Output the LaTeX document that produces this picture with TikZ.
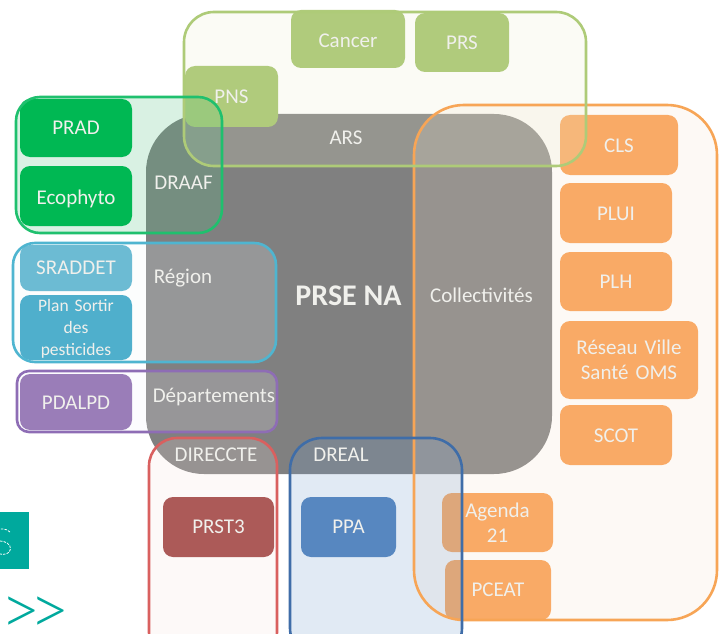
\documentclass[tikz,border=0pt]{standalone}
\usepackage{fontspec}
\setmainfont{Carlito}
\newfontfamily\chevfont{Lato Light}
\definecolor{txt}{HTML}{F0F0EC}
\definecolor{core}{HTML}{808080}
\definecolor{orangeb}{HTML}{F9AA66}
\definecolor{greenb}{HTML}{B0CB7C}
\definecolor{draafb}{HTML}{00B853}
\definecolor{sradb}{HTML}{6CBBD3}
\definecolor{planb}{HTML}{4FAFCC}
\definecolor{purpb}{HTML}{9A7DB8}
\definecolor{redb}{HTML}{AC5A58}
\definecolor{blueb}{HTML}{5787C0}
\definecolor{teal}{HTML}{00A99D}
\tikzset{
  x=1pt,y=-1pt,
  inner/.style={rounded corners=10pt,text=txt,font=\fontsize{21}{25}\selectfont,align=center},
  group/.style={rounded corners=#1,draw,line width=2.6pt},
  tag/.style={text=txt,font=\fontsize{21}{25}\selectfont,inner sep=0pt,anchor=base},
}
\newcommand{\dn}[2]{\raisebox{-#1pt}[\height][\depth]{#2}}
\newcommand{\rb}[7]{%
  \pgfmathsetmacro{\cxx}{(#2+#4)/2}\pgfmathsetmacro{\cyy}{(#3+#5)/2}%
  \pgfmathsetmacro{\ww}{#4-#2}\pgfmathsetmacro{\hh}{#5-#3}%
  \node[inner sep=0pt,outer sep=0pt,#6,minimum width=\ww pt,minimum height=\hh pt,text width=\ww pt] (#1) at (\cxx,\cyy) {#7};}
\begin{document}
\begin{tikzpicture}
\path[use as bounding box,clip] (0,0) rectangle (721,634);
\fill[white] (0,0) rectangle (721,634);
% core
\rb{core}{146}{114}{552}{474}{rounded corners=58pt,fill=core}{}
% Collectivites fill and boxes
\rb{collg}{414}{105}{717}{620}{rounded corners=50pt,fill={rgb,255:red,245;green,225;blue,205},fill opacity=.2}{}
\rb{cls}{560}{115}{678}{175}{inner,fill=orangeb}{\dn{1}{CLS}}
\rb{plui}{560}{183}{672}{243}{inner,fill=orangeb}{\dn{1}{PLUI}}
\rb{plh}{560}{252}{672}{311}{inner,fill=orangeb}{PLH}
\rb{reseau}{560}{321}{698}{399}{inner,fill=orangeb}{Réseau Ville\\Santé OMS}
\rb{scot}{560}{405}{672}{465}{inner,fill=orangeb}{\dn{1}{SCOT}}
\rb{agenda}{442}{493}{553}{552}{inner,fill=orangeb}{Agenda\\21}
\rb{pceat}{445}{560}{551}{620}{inner,fill=orangeb}{PCEAT}
% ARS
\rb{arsg}{184}{12}{586}{166}{rounded corners=30pt,fill={rgb,255:red,235;green,235;blue,205},fill opacity=.2}{}
\rb{cancer}{291}{10}{405}{68}{inner,fill=greenb}{\dn{2}{Cancer}}
\rb{prs}{415}{13}{509}{72}{inner,fill=greenb}{PRS}
\rb{pns}{185}{66}{278}{127}{inner,fill=greenb}{PNS}
% DRAAF
\rb{draafg}{16}{97}{222}{233}{rounded corners=24pt,fill={rgb,255:red,82;green,195;blue,132},fill opacity=.22}{}
\rb{prad}{20}{99}{132}{157}{inner,fill=draafb}{PRAD}
\rb{eco}{20}{166}{132}{226}{inner,fill=draafb}{\dn{2.5}{Ecophyto}}
% Region
\rb{regg}{13}{243}{276}{362}{rounded corners=22pt,fill={rgb,255:red,240;green,246;blue,248},fill opacity=.2}{}
\rb{srad}{20}{245}{132}{291}{inner,fill=sradb}{SRADDET}
\rb{plan}{20}{295}{132}{360}{inner,fill=planb,font=\fontsize{17.5}{22}\selectfont}{\dn{1}{Plan Sortir}\\\dn{1}{des}\\\dn{1}{pesticides}}
% Departements
\rb{depg}{17}{371}{277}{432}{rounded corners=12pt,fill={rgb,255:red,244;green,240;blue,250},fill opacity=.2}{}
\rb{pdal}{20}{374}{132}{430}{inner,fill=purpb}{\dn{1}{PDALPD}}
% DIRECCTE, DREAL
\rb{dirg}{149}{438}{277}{660}{rounded corners=28pt,fill={rgb,255:red,245;green,225;blue,220},fill opacity=.2}{}
\rb{drealg}{290}{438}{462}{660}{rounded corners=32pt,fill={rgb,255:red,118;green,157;blue,205},fill opacity=.21}{}
\rb{prst}{163}{497}{274}{557}{inner,fill=redb}{PRST3}
\rb{ppa}{301}{497}{396}{557}{inner,fill=blueb}{PPA}
% outlines
\rb{o1}{414}{105}{717}{620}{group=50pt,draw={rgb,255:red,247;green,165;blue,86}}{}
\rb{o2}{184}{12}{586}{166}{group=30pt,draw={rgb,255:red,174;green,203;blue,120}}{}
\rb{o3}{16}{97}{222}{233}{group=24pt,draw={rgb,255:red,31;green,192;blue,110}}{}
\rb{o4}{13}{243}{276}{362}{group=22pt,draw={rgb,255:red,79;green,181;blue,208}}{}
\rb{o5}{17}{371}{277}{432}{group=12pt,draw={rgb,255:red,142;green,109;blue,181}}{}
\rb{o6}{149}{438}{277}{660}{group=28pt,draw={rgb,255:red,217;green,96;blue,95}}{}
\rb{o7}{290}{438}{462}{660}{group=32pt,draw={rgb,255:red,63;green,109;blue,168}}{}
% labels
\node[tag] (lars) at (346,144) {ARS};
\node[tag] (ldraaf) at (183.5,189) {DRAAF};
\node[tag] (lreg) at (183,283) {Région};
\node[tag] (ldep) at (214,402) {Départements};
\node[tag] (ldir) at (216,461) {DIRECCTE};
\node[tag] (ldre) at (341,461) {DREAL};
\node[tag] (lcol) at (481.5,302) {Collectivités};
\node[tag,font=\fontsize{30}{34}\bfseries] (lprse) at (348.5,305) {PRSE NA};
% teal fragment
\fill[teal] (0,512) rectangle (29,569);
\draw[white,line width=.8pt,dash pattern=on 2.5pt off 1.2pt] (10,532) .. controls (6,528) and (0,529) .. (0,529);
\draw[white,line width=.8pt,dash pattern=on 2.5pt off 1.2pt] (0,541) .. controls (5,541) and (11,544) .. (10.5,549) .. controls (10,554) and (4,555) .. (0,554);
\node[text=teal,font=\chevfont\fontsize{70}{70}\selectfont,inner sep=0pt] (chev) at (35.5,616) {>\kern-12pt>};
\end{tikzpicture}
\end{document}
